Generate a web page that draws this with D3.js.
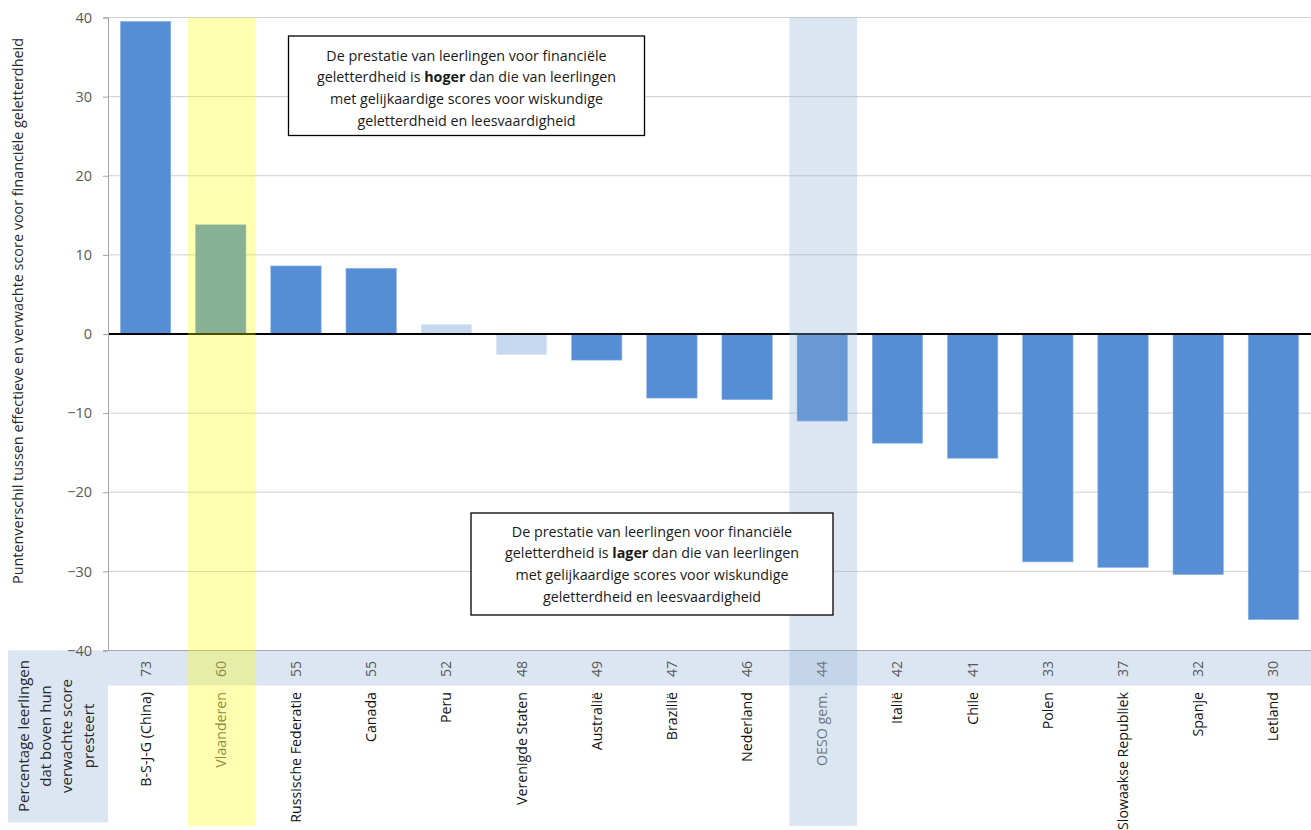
<!DOCTYPE html>
<html>
<head>
<meta charset="utf-8">
<script src="https://cdn.jsdelivr.net/npm/d3@7"></script>
<style>
  html, body { margin: 0; padding: 0; background: #fff; }
  svg { display: block; font-family: "Open Sans", "Noto Sans", sans-serif; }
</style>
</head>
<body>
<svg id="chart" width="1311" height="830"></svg>
<script>
// Landen / systemen, gesorteerd volgens puntenverschil
const categories = ["B-S-J-G (China)", "Vlaanderen", "Russische Federatie", "Canada", "Peru",
  "Verenigde Staten", "Australië", "Brazilië", "Nederland", "OESO gem.", "Italië", "Chile",
  "Polen", "Slowaakse Republiek", "Spanje", "Letland"];

// Puntenverschil tussen effectieve en verwachte score voor financiële geletterdheid
const scoreDiff = [39.5, 13.8, 8.6, 8.3, 1.2, -2.6, -3.3, -8.1, -8.3, -11.0, -13.8, -15.7,
  -28.8, -29.5, -30.4, -36.1];

// Percentage leerlingen dat boven hun verwachte score presteert
const pctAbove = [73, 60, 55, 55, 52, 48, 49, 47, 46, 44, 42, 41, 33, 37, 32, 30];

// Verschillen die niet significant zijn (lichtere balken)
const notSignificant = ["Peru", "Verenigde Staten"];

// Gemarkeerde kolommen
const highlightYellow = ["Vlaanderen"];
const highlightBlue = ["OESO gem."];

const yTicks = [-40, -30, -20, -10, 0, 10, 20, 30, 40];

const yTitle = "Puntenverschil tussen effectieve en verwachte score voor financiële geletterdheid";
const rowTitle = ["Percentage leerlingen", "dat boven hun", "verwachte score", "presteert"];
const noteHigh = [
  ["De prestatie van leerlingen voor financiële"],
  ["geletterdheid is ", "hoger", " dan die van leerlingen"],
  ["met gelijkaardige scores voor wiskundige"],
  ["geletterdheid en leesvaardigheid"]
];
const noteLow = [
  ["De prestatie van leerlingen voor financiële"],
  ["geletterdheid is ", "lager", " dan die van leerlingen"],
  ["met gelijkaardige scores voor wiskundige"],
  ["geletterdheid en leesvaardigheid"]
];

const svg = d3.select("#chart");
const plotLeft = 108, plotRight = 1311, plotTop = 17.5, plotBottom = 650.5;

const x = d3.scaleBand().domain(categories).range([plotLeft, plotRight])
  .paddingInner(0.33).paddingOuter(0.165);
const y = d3.scaleLinear().domain([-40, 40]).range([plotBottom, plotTop]);

const data = categories.map((c, i) => ({ name: c, value: scoreDiff[i], pct: pctAbove[i] }));

// Strip with percentages + row title box
svg.append("rect").attr("x", 8).attr("y", plotBottom).attr("width", plotRight - 8).attr("height", 35)
  .attr("fill", "#DCE6F2");
svg.append("rect").attr("x", 8).attr("y", plotBottom).attr("width", plotLeft - 8).attr("height", 172)
  .attr("fill", "#DCE6F2");

// Gridlines
svg.append("g").selectAll("line").data(yTicks.filter(t => t !== 0)).join("line")
  .attr("x1", plotLeft).attr("x2", plotRight)
  .attr("y1", d => y(d)).attr("y2", d => y(d))
  .attr("stroke", d => d === -40 ? "#A6A6A6" : "#CFCFCF").attr("stroke-width", 1);

// Bars
svg.append("g").selectAll("rect").data(data).join("rect")
  .attr("x", d => x(d.name))
  .attr("width", x.bandwidth())
  .attr("y", d => y(Math.max(0, d.value)))
  .attr("height", d => Math.abs(y(d.value) - y(0)))
  .attr("fill", d => notSignificant.includes(d.name) ? "#C6D9F1" : "#558ED5")
  .attr("stroke", d => notSignificant.includes(d.name) ? "#DCE6F2" : "#8DB3E2")
  .attr("stroke-width", 0.6);

// Zero line
svg.append("line").attr("x1", plotLeft).attr("x2", plotRight).attr("y1", y(0)).attr("y2", y(0))
  .attr("stroke", "#000").attr("stroke-width", 2);

// Y axis
const yAxis = d3.axisLeft(y).tickValues(yTicks).tickSize(5).tickPadding(11);
const ga = svg.append("g").attr("transform", `translate(${plotLeft},0)`).call(yAxis);
ga.select(".domain").attr("stroke", "#A6A6A6");
ga.selectAll(".tick line").attr("stroke", "#A6A6A6");
ga.selectAll(".tick text").attr("fill", "#595959").style("font-size", "14.5px")
  .style("font-family", "'Open Sans', sans-serif");

// Y axis title
svg.append("text")
  .attr("transform", `translate(23,${(30 + 592) / 2}) rotate(-90)`)
  .attr("text-anchor", "middle")
  .attr("fill", "#262626")
  .style("font-size", "14.4px")
  .text(yTitle);

// Percentages in strip
svg.append("g").selectAll("text").data(data).join("text")
  .attr("transform", d => `translate(${x(d.name) + x.bandwidth() / 2 + 5},669) rotate(-90)`)
  .attr("text-anchor", "middle")
  .attr("fill", "#595959")
  .style("font-size", "14.2px")
  .text(d => d.pct);

// Category labels
svg.append("g").selectAll("text").data(data).join("text")
  .attr("transform", d => `translate(${x(d.name) + x.bandwidth() / 2 + 5},692) rotate(-90)`)
  .attr("text-anchor", "end")
  .attr("fill", d => (highlightYellow.includes(d.name) || highlightBlue.includes(d.name)) ? "#595959" : "#111")
  .style("font-size", "14.2px")
  .text(d => d.name);

// Row title
svg.append("g").selectAll("text").data(rowTitle).join("text")
  .attr("transform", (d, i) => `translate(${29 + i * 21.5},736) rotate(-90)`)
  .attr("text-anchor", "middle")
  .attr("fill", "#262626")
  .style("font-size", "15px")
  .text(d => d);

// Highlight bands, translucent, drawn on top
const bandW = x.step() * 0.9;
svg.append("g").selectAll("rect").data(highlightYellow).join("rect")
  .attr("x", d => x(d) + x.bandwidth() / 2 - bandW / 2 + 1)
  .attr("y", plotTop).attr("width", bandW).attr("height", 826 - plotTop)
  .attr("fill", "#FFFF00").attr("fill-opacity", 0.3);
svg.append("g").selectAll("rect").data(highlightBlue).join("rect")
  .attr("x", d => x(d) + x.bandwidth() / 2 - bandW / 2 + 1)
  .attr("y", plotTop).attr("width", bandW).attr("height", 826 - plotTop)
  .attr("fill", "#92B2D7").attr("fill-opacity", 0.32);

// Annotation boxes
function note(lines, bx, by, bw, bh, cx, firstY) {
  const g = svg.append("g");
  g.append("rect").attr("x", bx).attr("y", by).attr("width", bw).attr("height", bh)
    .attr("fill", "#fff").attr("stroke", "#000").attr("stroke-width", 1.3);
  lines.forEach((parts, i) => {
    const t = g.append("text").attr("x", cx).attr("y", firstY + i * 21.7)
      .attr("text-anchor", "middle").attr("fill", "#1a1a1a").style("font-size", "14.3px");
    parts.forEach((p, j) => {
      t.append("tspan").attr("font-weight", j === 1 ? "bold" : "normal").text(p);
    });
  });
}
note(noteHigh, 288.5, 36, 356, 99.5, 466.5, 60.5);
note(noteLow, 471, 513, 362, 102, 652, 536.5);
</script>
</body>
</html>
